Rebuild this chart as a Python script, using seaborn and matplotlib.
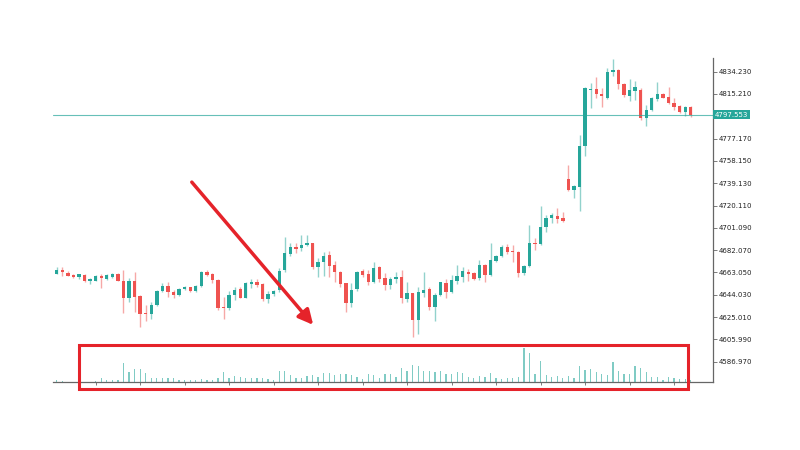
import seaborn as sns
import matplotlib.pyplot as plt
import matplotlib.patches as patches
import numpy as np

# candle data
opens = [4662.0, 4665.4, 4662.8, 4660.6, 4659.2, 4661.1, 4655.5, 4656.0, 4659.8, 4657.7,
         4659.4, 4661.7, 4656.0, 4641.3, 4656.0, 4643.2, 4628.2, 4627.6, 4635.3, 4647.2,
         4651.5, 4646.4, 4643.8, 4648.9, 4650.4, 4646.9, 4651.5, 4663.4, 4661.5, 4656.6,
         4633.8, 4632.4, 4644.1, 4648.7, 4641.5, 4653.5, 4654.9, 4653.1, 4640.4, 4644.4,
         4648.1, 4665.1, 4678.8, 4684.5, 4683.7, 4686.2, 4687.9, 4667.9, 4671.7, 4677.9,
         4669.4, 4663.7, 4653.8, 4636.7, 4648.7, 4664.3, 4661.5, 4655.2, 4667.4, 4658.1,
         4652.3, 4657.2, 4659.4, 4640.4, 4645.3, 4622.5, 4645.8, 4648.7, 4633.8, 4643.8,
         4654.3, 4646.1, 4656.0, 4659.4, 4663.7, 4662.3, 4658.1, 4669.4, 4660.9, 4673.1,
         4677.1, 4685.0, 4681.3, 4680.7, 4662.8, 4668.5, 4688.4, 4687.1, 4701.6, 4709.2,
         4711.5, 4709.2, 4742.5, 4733.4, 4736.2, 4770.9, 4818.4, 4819.5, 4815.2, 4811.5,
         4834.2, 4835.7, 4823.5, 4813.8, 4818.0, 4818.6, 4795.0, 4801.6, 4810.9, 4814.9,
         4812.4, 4807.3, 4805.0, 4799.6, 4804.4]
highs = [4667.9, 4667.4, 4664.0, 4661.5, 4662.0, 4661.7, 4658.1, 4661.1, 4661.5, 4662.0,
         4662.3, 4662.3, 4665.4, 4658.6, 4663.7, 4643.8, 4635.3, 4638.1, 4648.1, 4653.8,
         4655.2, 4648.1, 4649.5, 4651.7, 4650.9, 4652.1, 4664.3, 4664.9, 4662.3, 4657.2,
         4642.4, 4647.2, 4650.4, 4650.4, 4655.2, 4657.5, 4657.7, 4653.8, 4647.2, 4648.1,
         4666.6, 4692.9, 4687.9, 4688.4, 4695.0, 4695.0, 4688.4, 4675.1, 4680.7, 4681.6,
         4673.1, 4664.3, 4654.3, 4653.8, 4664.3, 4665.7, 4665.1, 4671.7, 4668.5, 4662.8,
         4659.4, 4663.7, 4665.1, 4655.2, 4645.8, 4650.4, 4663.2, 4650.9, 4645.3, 4655.2,
         4657.2, 4660.9, 4669.4, 4667.9, 4665.7, 4663.7, 4673.7, 4670.0, 4687.9, 4677.9,
         4686.5, 4687.1, 4686.5, 4681.6, 4669.4, 4703.5, 4692.2, 4719.7, 4712.0, 4713.5,
         4717.7, 4714.9, 4754.4, 4737.7, 4780.3, 4821.0, 4824.6, 4829.5, 4820.1, 4837.1,
         4845.1, 4836.5, 4824.3, 4828.0, 4826.3, 4820.1, 4805.9, 4812.9, 4825.7, 4815.8,
         4821.4, 4811.5, 4805.9, 4805.0, 4805.0]
lows = [4661.4, 4659.8, 4659.8, 4658.1, 4657.7, 4654.6, 4652.9, 4655.5, 4649.8, 4656.9,
        4658.6, 4655.8, 4628.2, 4638.1, 4629.6, 4616.8, 4621.5, 4623.0, 4634.7, 4646.6,
        4642.4, 4641.0, 4643.2, 4648.1, 4646.4, 4646.4, 4650.9, 4660.3, 4654.3, 4631.0,
        4623.6, 4631.0, 4639.6, 4641.0, 4641.0, 4649.5, 4650.9, 4638.9, 4637.2, 4643.2,
        4646.6, 4663.0, 4677.1, 4679.9, 4681.6, 4685.6, 4666.0, 4659.4, 4660.3, 4659.4,
        4655.2, 4650.4, 4629.6, 4633.3, 4647.2, 4659.4, 4652.3, 4653.8, 4655.2, 4648.1,
        4648.7, 4653.8, 4636.7, 4638.1, 4608.2, 4610.5, 4642.4, 4630.9, 4621.4, 4643.0,
        4641.0, 4645.3, 4652.9, 4655.2, 4656.0, 4656.6, 4656.6, 4654.6, 4660.0, 4671.7,
        4676.5, 4678.8, 4672.2, 4658.9, 4660.9, 4667.4, 4682.2, 4686.5, 4697.8, 4704.9,
        4704.9, 4706.3, 4732.6, 4726.4, 4715.4, 4762.5, 4803.0, 4811.5, 4804.4, 4810.7,
        4830.8, 4819.5, 4812.4, 4809.2, 4810.1, 4793.0, 4788.2, 4800.7, 4809.5, 4811.5,
        4806.4, 4801.6, 4798.7, 4796.6, 4795.9]
closes = [4665.4, 4663.2, 4660.3, 4658.9, 4661.5, 4655.5, 4657.2, 4660.0, 4658.6, 4660.6,
          4661.7, 4656.0, 4641.3, 4656.0, 4642.4, 4627.6, 4627.6, 4635.3, 4647.5, 4651.5,
          4646.1, 4643.8, 4649.2, 4650.4, 4647.2, 4651.5, 4663.4, 4660.9, 4656.4, 4633.0,
          4632.7, 4643.8, 4648.1, 4641.5, 4653.8, 4655.2, 4652.3, 4640.1, 4644.7, 4647.2,
          4664.3, 4679.4, 4684.5, 4682.8, 4686.5, 4687.9, 4667.9, 4671.7, 4677.3, 4668.8,
          4663.2, 4653.2, 4636.7, 4648.1, 4663.7, 4660.9, 4655.2, 4666.6, 4657.2, 4652.3,
          4657.2, 4658.9, 4641.0, 4645.8, 4622.5, 4646.6, 4648.1, 4633.8, 4643.8, 4654.6,
          4646.6, 4656.6, 4660.0, 4664.0, 4661.7, 4657.5, 4669.4, 4660.9, 4673.7, 4677.1,
          4685.0, 4680.7, 4680.5, 4662.8, 4668.5, 4688.4, 4687.3, 4701.6, 4709.2, 4712.0,
          4708.6, 4706.9, 4733.4, 4736.8, 4770.9, 4820.2, 4819.3, 4815.2, 4813.5, 4833.7,
          4835.7, 4823.5, 4814.4, 4818.6, 4820.9, 4795.0, 4801.6, 4811.5, 4814.9, 4812.1,
          4807.3, 4804.4, 4799.6, 4804.4, 4797.553]
volumes = [20, 10, 5, 5, 5, 5, 5, 10, 43, 20,
           17, 23, 193, 100, 130, 130, 87, 37, 43, 43,
           37, 37, 17, 17, 17, 20, 30, 23, 17, 43,
           100, 43, 63, 50, 43, 43, 43, 43, 30, 20,
           110, 110, 67, 43, 43, 63, 67, 50, 87, 87,
           70, 77, 80, 67, 50, 30, 80, 67, 37, 77,
           83, 53, 137, 110, 173, 157, 110, 107, 103, 110,
           77, 77, 97, 90, 53, 40, 63, 47, 90, 40,
           30, 37, 40, 53, 340, 290, 83, 213, 67, 47,
           63, 40, 63, 40, 163, 117, 130, 97, 83, 70,
           200, 113, 83, 77, 157, 137, 97, 53, 53, 23,
           47, 40, 33, 30, 20]

ytick_vals = [4586.970, 4605.990, 4625.010, 4644.030, 4663.050, 4682.070, 4701.090,
              4720.110, 4739.130, 4758.150, 4777.170, 4815.210, 4834.230]
ytick_labels = ['4586.970', '4605.990', '4625.010', '4644.030', '4663.050', '4682.070', '4701.090',
                '4720.110', '4739.130', '4758.150', '4777.170', '4815.210', '4834.230']
last_price = 4797.553
last_label = '4797.553'

green = '#26a69a'
red = '#ef5350'
box_red = '#e5232a'

sns.set_style('white')
plt.rcParams['font.family'] = ['DejaVu Sans']

fig = plt.figure(figsize=(8, 4.5), dpi=100)
rect = [0.06625, 0.1511, 0.825, 0.72]
axv = fig.add_axes(rect)
ax = fig.add_axes(rect, sharex=axv)
ax.set_zorder(2)
axv.set_zorder(1)
ax.patch.set_alpha(0)

idx = np.arange(len(opens))
o = np.array(opens)
c = np.array(closes)
up = c >= o
cols = np.where(up, green, red)

# volume under the candles
sns.barplot(x=idx, y=volumes, native_scale=True, ax=axv, color='#80cbc4',
            width=0.23, saturation=1, linewidth=0, errorbar=None)
axv.set_ylim(0, 3240)
axv.axis('off')

# candles
ax.vlines(idx, lows, highs, colors=cols, lw=1, alpha=0.5)
ax.bar(idx, np.maximum(np.abs(c - o), 0.9), bottom=np.minimum(o, c),
       width=0.6, color=cols, linewidth=0)

ax.axhline(last_price, color=green, lw=0.8, alpha=0.7)
ax.text(1.003, last_price, last_label, transform=ax.get_yaxis_transform(),
        ha='left', va='center', fontsize=5, color='white',
        bbox=dict(boxstyle='square,pad=0.25', fc=green, ec='none'))

ax.set_xlim(-0.67, 118.0)
ax.set_ylim(4569.6, 4845.9)

ax.yaxis.tick_right()
ax.set_yticks(ytick_vals, ytick_labels)
ax.set_xticks(np.arange(7, 115, 8))
ax.tick_params(axis='y', right=True, left=False, labelsize=5, length=3, width=0.6,
               color='#666666', labelcolor='#222222', pad=1)
ax.tick_params(axis='x', bottom=True, length=2, width=0.6, color='#666666',
               labelbottom=False)
for s in ['top', 'left']:
    ax.spines[s].set_visible(False)
for s in ['right', 'bottom']:
    ax.spines[s].set_color('#666666')
    ax.spines[s].set_linewidth(0.9)
ax.set_xlabel('')
ax.set_ylabel('')

# red call-outs
fig.add_artist(patches.FancyArrowPatch((190 / 800, 270 / 450), (315 / 800, 123 / 450),
                                       transform=fig.transFigure, arrowstyle='-|>',
                                       mutation_scale=22, color=box_red, lw=2.5, zorder=5))
fig.add_artist(patches.Rectangle((79 / 800, 61 / 450), 609 / 800, 44 / 450,
                                 transform=fig.transFigure, fill=False,
                                 edgecolor=box_red, lw=2.2, zorder=5))

fig.savefig('out.png', dpi=100)
